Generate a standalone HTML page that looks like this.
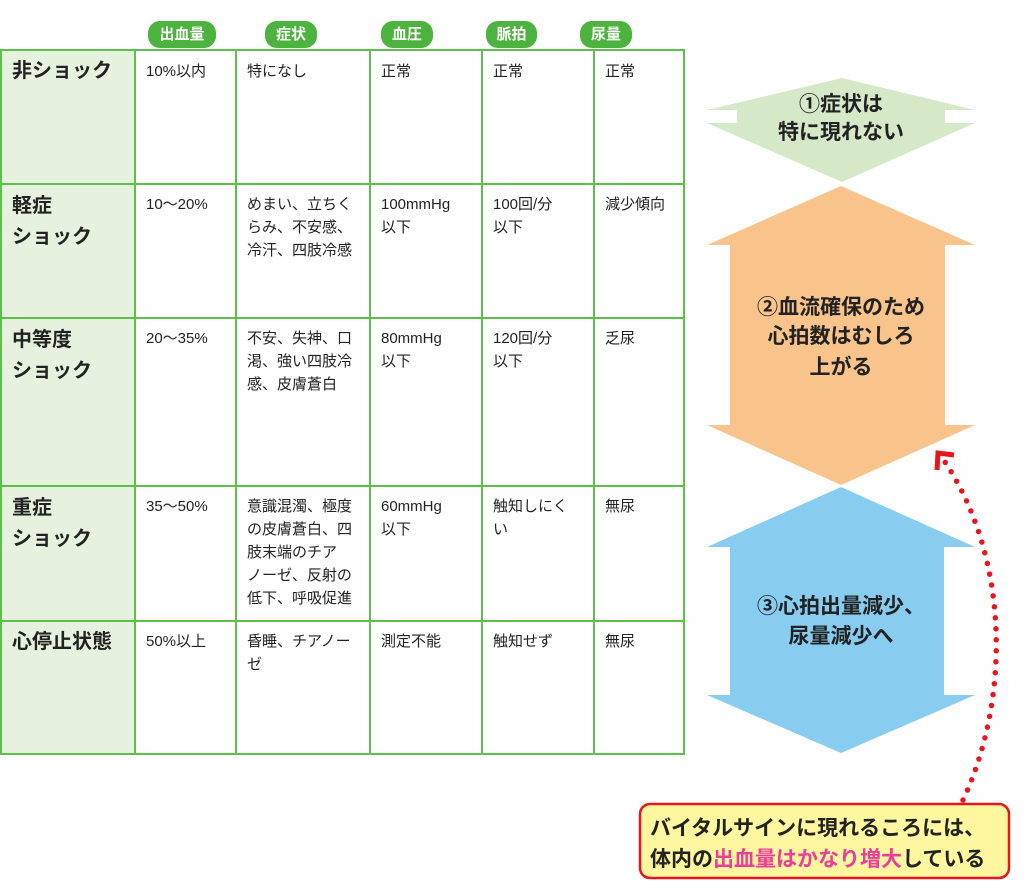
<!DOCTYPE html>
<html><head><meta charset="utf-8"><style>
body{margin:0;width:1024px;height:894px;background:#fff;position:relative;overflow:hidden;font-family:"Liberation Sans","Noto Sans CJK JP",sans-serif;color:#222}
.pill{position:absolute;top:21px;height:27px;background:#4cb33e;color:#fff;border-radius:12px;font-size:15px;font-weight:bold;text-align:center;line-height:27px}
.c{position:absolute;font-size:15px;line-height:23px;padding:8px 0 0 11px;box-sizing:border-box}
.h{position:absolute;font-size:20px;font-weight:bold;line-height:31px;left:12px}
svg text{font-family:"Liberation Sans","Noto Sans CJK JP",sans-serif;font-weight:bold;fill:#222}
</style></head><body>
<div class="pill" style="left:148px;width:68px">出血量</div>
<div class="pill" style="left:265px;width:52px">症状</div>
<div class="pill" style="left:381px;width:52px">血圧</div>
<div class="pill" style="left:486px;width:51px">脈拍</div>
<div class="pill" style="left:580px;width:52px">尿量</div>
<svg style="position:absolute;left:0;top:0" width="1024" height="894">
<rect x="1" y="50" width="134" height="704" fill="#e6f2de"/>
<g stroke="#5cc04a" stroke-width="2" fill="none">
<rect x="1" y="50" width="683" height="704"/>
<line x1="135" y1="50" x2="135" y2="754"/><line x1="236" y1="50" x2="236" y2="754"/>
<line x1="370" y1="50" x2="370" y2="754"/><line x1="482" y1="50" x2="482" y2="754"/>
<line x1="594" y1="50" x2="594" y2="754"/>
<line x1="1" y1="184" x2="684" y2="184"/><line x1="1" y1="318" x2="684" y2="318"/>
<line x1="1" y1="486" x2="684" y2="486"/><line x1="1" y1="621" x2="684" y2="621"/>
</g>
<polygon points="842,78 975,110 945,110 945,123 975,123 842,182 707,123 737,123 737,110 707,110" fill="#d5e8c8"/>
<polygon points="841,186 975,245 945,245 945,425 975,425 841,485 707,425 730,425 730,245 707,245" fill="#f8c48c"/>
<polygon points="841,487 975,547 944,547 944,695 975,695 841,753 707,695 730,695 730,547 707,547" fill="#88cdf0"/>
<path d="M963,800 C1010,700 1010,560 945,462" stroke="#e8141e" stroke-width="5.5" stroke-dasharray="0 11" stroke-linecap="round" fill="none"/>
<polyline points="954,455 938,453 937,470" stroke="#e8141e" stroke-width="5" fill="none"/>
<rect x="640" y="804" width="369" height="74" rx="10" fill="#fff6a0" stroke="#e8141e" stroke-width="2.5"/>
<text x="841" y="111" font-size="21" text-anchor="middle">①症状は</text>
<text x="841" y="139" font-size="21" text-anchor="middle">特に現れない</text>
<text x="841" y="314" font-size="21" text-anchor="middle">②血流確保のため</text>
<text x="841" y="343" font-size="21" text-anchor="middle">心拍数はむしろ</text>
<text x="841" y="374" font-size="21" text-anchor="middle">上がる</text>
<text x="841" y="613" font-size="21" text-anchor="middle">③心拍出量減少、</text>
<text x="841" y="643" font-size="21" text-anchor="middle">尿量減少へ</text>
<text x="650" y="835" font-size="21">バイタルサインに現れるころには、</text>
<text x="650" y="866" font-size="21">体内の<tspan style="fill:#e8409a">出血量はかなり増大</tspan>している</text>
</svg>
<div class="h" style="top:56px">非ショック</div>
<div class="h" style="top:191px">軽症<br>ショック</div>
<div class="h" style="top:325px">中等度<br>ショック</div>
<div class="h" style="top:493px">重症<br>ショック</div>
<div class="h" style="top:627px">心停止状態</div>

<div class="c" style="left:135px;top:52px">10%以内</div>
<div class="c" style="left:236px;top:52px">特になし</div>
<div class="c" style="left:370px;top:52px">正常</div>
<div class="c" style="left:482px;top:52px">正常</div>
<div class="c" style="left:594px;top:52px">正常</div>

<div class="c" style="left:135px;top:185px">10～20%</div>
<div class="c" style="left:236px;top:185px">めまい、立ちく<br>らみ、不安感、<br>冷汗、四肢冷感</div>
<div class="c" style="left:370px;top:185px">100mmHg<br>以下</div>
<div class="c" style="left:482px;top:185px">100回/分<br>以下</div>
<div class="c" style="left:594px;top:185px">減少傾向</div>

<div class="c" style="left:135px;top:319px">20～35%</div>
<div class="c" style="left:236px;top:319px">不安、失神、口<br>渇、強い四肢冷<br>感、皮膚蒼白</div>
<div class="c" style="left:370px;top:319px">80mmHg<br>以下</div>
<div class="c" style="left:482px;top:319px">120回/分<br>以下</div>
<div class="c" style="left:594px;top:319px">乏尿</div>

<div class="c" style="left:135px;top:487px">35～50%</div>
<div class="c" style="left:236px;top:487px">意識混濁、極度<br>の皮膚蒼白、四<br>肢末端のチア<br>ノーゼ、反射の<br>低下、呼吸促進</div>
<div class="c" style="left:370px;top:487px">60mmHg<br>以下</div>
<div class="c" style="left:482px;top:487px">触知しにく<br>い</div>
<div class="c" style="left:594px;top:487px">無尿</div>

<div class="c" style="left:135px;top:622px">50%以上</div>
<div class="c" style="left:236px;top:622px">昏睡、チアノー<br>ゼ</div>
<div class="c" style="left:370px;top:622px">測定不能</div>
<div class="c" style="left:482px;top:622px">触知せず</div>
<div class="c" style="left:594px;top:622px">無尿</div>
</body></html>
